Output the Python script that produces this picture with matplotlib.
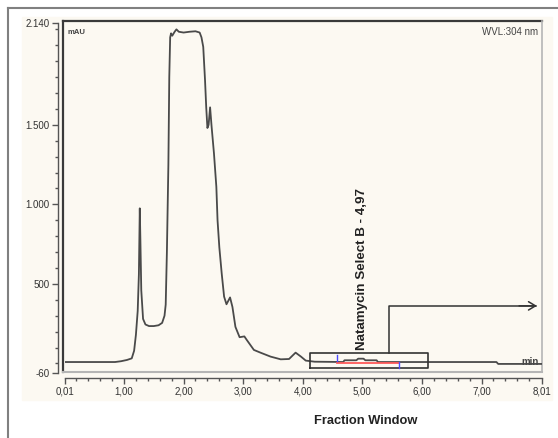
import matplotlib
matplotlib.use("Agg")
import matplotlib.pyplot as plt
import numpy as np

# chromatogram trace (min, mAU)
t_min = [0.01, 0.85, 0.95, 1.05, 1.13, 1.17, 1.20, 1.23, 1.25, 1.265, 1.275, 1.29,
         1.32, 1.36, 1.42, 1.50, 1.58, 1.64, 1.68, 1.70, 1.72, 1.745, 1.76, 1.775,
         1.79, 1.81, 1.85, 1.88, 1.92, 2.00, 2.10, 2.20, 2.27, 2.30, 2.33, 2.36,
         2.38, 2.40, 2.42, 2.445, 2.47, 2.51, 2.55, 2.57, 2.60, 2.64, 2.68, 2.72,
         2.78, 2.82, 2.87, 2.94, 3.02, 3.06, 3.18, 3.29, 3.46, 3.63, 3.77, 3.83,
         3.88, 3.97, 4.05, 4.20, 4.47, 4.68, 4.70, 4.90, 4.93, 5.02, 5.05, 5.24,
         5.26, 7.25, 7.28, 8.01]
mau = [9, 9, 14, 22, 32, 80, 180, 330, 560, 975, 780, 460,
       280, 245, 235, 235, 240, 255, 300, 370, 700, 1250, 1800, 2050,
       2075, 2060, 2085, 2100, 2085, 2080, 2085, 2088, 2080, 2050, 1990, 1780,
       1610, 1480, 1500, 1610, 1490, 1320, 1110, 900, 730, 565, 420, 372,
       415, 355, 230, 165, 170, 148, 85, 68, 43, 26, 28, 50,
       68, 43, 18, 11, 10, 9, 20, 20, 30, 30, 20, 20,
       9, 9, -3, -3]

# fraction window annotation
frac_window = (4.12, 6.10, -30, 64)      # t0, t1, y0, y1
peak_span = (4.57, 5.62)                 # red integration line
peak_label = "Natamycin Select B - 4,97"
peak_time = 4.99
arrow_x = 5.44
arrow_y = 362
arrow_end = 7.93

x_ticks = [0.01, 1.00, 2.00, 3.00, 4.00, 5.00, 6.00, 7.00, 8.01]
x_labels = ["0,01", "1,00", "2,00", "3,00", "4,00", "5,00", "6,00", "7,00", "8,01"]
y_ticks = [-60, 500, 1000, 1500, 2140]
y_labels = ["-60", "500", "1.000", "1.500", "2.140"]

W, H = 558, 438
fig = plt.figure(figsize=(W / 100, H / 100), dpi=100)
fig.patch.set_facecolor("white")

# cream panel and outer frame
fig.patches.append(plt.Rectangle((22 / W, 1 - 400 / H), 530 / W, 383 / H,
                                 transform=fig.transFigure, color="#fcf9f2", zorder=-5))
fig.add_artist(plt.Line2D([8 / W, 8 / W], [0, 1 - 8 / H], transform=fig.transFigure,
                          color="#808080", lw=1.5))
fig.add_artist(plt.Line2D([8 / W, 1], [1 - 8 / H, 1 - 8 / H], transform=fig.transFigure,
                          color="#808080", lw=1.5))

ax = fig.add_axes([65 / W, 1 - 373 / H, 476.7 / W, 350 / H])
ax.set_zorder(2)
ax.set_facecolor("none")
ax.set_xlim(0.01, 8.01)
ax.set_ylim(-60, 2140)

ax.text(7.81, 9, "min", fontsize=7, fontweight="bold", color="#444444",
        ha="center", va="center", family="Liberation Sans", zorder=1)
ax.plot(t_min, mau, color="#4a4a4a", lw=1.3, zorder=3)

# fraction window box, integration marks and arrow
t0, t1, y0, y1 = frac_window
ax.plot([t0, t1, t1, t0, t0], [y0, y0, y1, y1, y0], color="#333333", lw=1.2, zorder=4)
ax.plot(peak_span, [4, 4], color="#ff5a5a", lw=1.3, zorder=3.5)
ax.plot([peak_span[0]] * 2, [17, 53], color="#4a4aff", lw=1.0, zorder=4)
ax.plot([peak_span[1]] * 2, [8, -30], color="#4a4aff", lw=1.0, zorder=4)
ax.plot([arrow_x, arrow_x, arrow_end - 0.02], [y1, arrow_y, arrow_y], color="#333333",
        lw=1.1, zorder=4)
ax.annotate("", xy=(arrow_end, arrow_y), xytext=(arrow_end - 0.3, arrow_y),
            arrowprops=dict(arrowstyle="->,head_length=0.5,head_width=0.3",
                            color="#333333", lw=1.1, shrinkA=0, shrinkB=0))
ax.text(peak_time, 85, peak_label, rotation=90, ha="center", va="bottom",
        fontsize=9.6, fontweight="bold", color="#222222", family="Liberation Sans")

ax.text(0.006, 0.972, "mAU", transform=ax.transAxes, fontsize=5.5, fontweight="bold",
        color="#444444", ha="left", va="center", family="Liberation Sans")
ax.text(0.992, 0.973, "WVL:304 nm", transform=ax.transAxes, fontsize=7,
        color="#444444", ha="right", va="center", family="Liberation Sans")

# plot box: dark top/left, light right/bottom
ax.plot([-0.0042, -0.0042], [0.004, 1.0057], transform=ax.transAxes, clip_on=False,
        color="#3a3a3a", lw=1.6)
ax.plot([-0.0042, 1.001], [1.0057, 1.0057], transform=ax.transAxes, clip_on=False,
        color="#3a3a3a", lw=1.6)
ax.plot([1.001, 1.001], [0.004, 1.0057], transform=ax.transAxes, clip_on=False,
        color="#b5b5b5", lw=1.2)
ax.plot([-0.0042, 1.001], [0.004, 0.004], transform=ax.transAxes, clip_on=False,
        color="#b5b5b5", lw=1.5)

for s in ("top", "right"):
    ax.spines[s].set_visible(False)
ax.spines["left"].set_position(("outward", 5))
ax.spines["bottom"].set_position(("outward", 3.6))
for s in ("left", "bottom"):
    ax.spines[s].set_color("#555555")
    ax.spines[s].set_linewidth(1.0)

ax.set_xticks(x_ticks)
ax.set_xticklabels(x_labels)
ax.set_xticks([v / 5 for v in range(1, 40) if v % 5], minor=True)
ax.set_yticks(y_ticks)
ax.set_yticklabels(y_labels)
ax.set_yticks([v for v in range(0, 2101, 100) if v not in y_ticks], minor=True)
ax.tick_params(which="major", length=4, width=1, color="#555555", pad=2,
               labelsize=7, labelcolor="#333333")
ax.tick_params(which="minor", length=2, width=1, color="#555555")
for lab in ax.get_xticklabels() + ax.get_yticklabels():
    lab.set_family("Liberation Sans")

fig.text(366 / W, 1 - 421 / H, "Fraction Window", ha="center", va="center",
         fontsize=9.3, fontweight="bold", color="#222222", family="Liberation Sans")

fig.savefig("out.png", dpi=100)
